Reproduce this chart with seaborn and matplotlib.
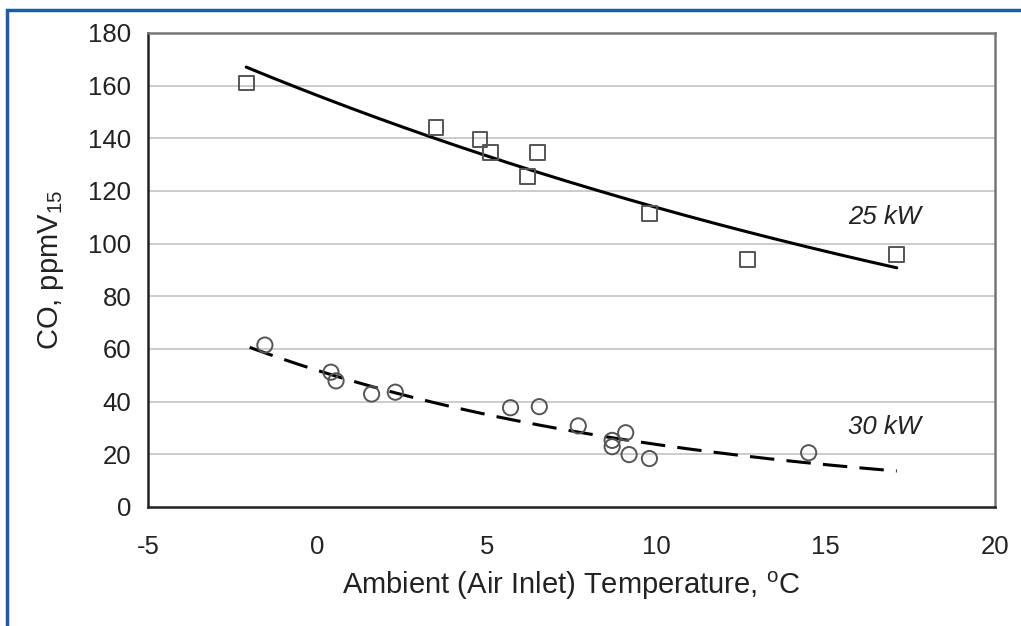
import numpy as np
import pandas as pd
import matplotlib
matplotlib.use("Agg")
import matplotlib.pyplot as plt
from matplotlib.patches import Rectangle
import seaborn as sns

# ---- data ----
t25 = [-2.1, 3.5, 4.8, 5.1, 6.2, 6.5, 9.8, 12.7, 17.1]
co25 = [161, 144, 139.5, 134.5, 125.5, 134.5, 111.5, 94, 96]

t30 = [-1.55, 0.4, 0.55, 1.6, 2.3, 5.7, 6.55, 7.7, 8.7, 8.7, 9.1, 9.2, 9.8, 14.5]
co30 = [61.5, 51.2, 47.9, 42.9, 43.6, 37.7, 38.1, 30.8, 25.3, 22.9, 28.2, 19.9, 18.4, 20.6]

# extent of the exponential trend lines
trend25_range = [-2.1, 17.1]
trend30_range = [-2.0, 17.1]

labels = ["25 kW", "30 kW"]
xticks = [-5, 0, 5, 10, 15, 20]
yticks = list(range(0, 181, 20))

# ---- style ----
sns.set_style("white")
plt.rcParams["font.family"] = ["Liberation Sans", "DejaVu Sans"]
plt.rcParams["mathtext.fontset"] = "custom"
plt.rcParams["mathtext.rm"] = "Liberation Sans"
plt.rcParams["mathtext.it"] = "Liberation Sans:italic"
plt.rcParams["axes.unicode_minus"] = False

fig = plt.figure(figsize=(10.21, 6.26), dpi=100)
ax = fig.add_axes([148 / 1021, 1 - 507 / 626, (995 - 148) / 1021, (507 - 33) / 626])

# blue frame around the figure
fig.patches.append(Rectangle((7 / 1021, -0.05), 1.2, 1 - 10 / 626 + 0.05,
                             transform=fig.transFigure, fill=False,
                             edgecolor="#1f5aa6", linewidth=2.5, clip_on=False))

# horizontal grid
for yv in yticks[1:-1]:
    ax.axhline(yv, color="#cccccc", lw=1.4, zorder=0)


def exp_trend(x, y, rng):
    b, a = np.polyfit(np.asarray(x, float), np.log(np.asarray(y, float)), 1)
    xs = np.linspace(rng[0], rng[1], 200)
    return pd.DataFrame({"x": xs, "y": np.exp(a + b * xs)})


tr25 = exp_trend(t25, co25, trend25_range)
tr30 = exp_trend(t30, co30, trend30_range)

df25 = pd.DataFrame({"t": t25, "co": co25})
df30 = pd.DataFrame({"t": t30, "co": co30})
sns.scatterplot(data=df25, x="t", y="co", ax=ax, marker="s", s=115,
                facecolor="none", edgecolor="#555555", linewidth=1.4, zorder=3)
sns.scatterplot(data=df30, x="t", y="co", ax=ax, marker="o", s=120,
                facecolor="none", edgecolor="#555555", linewidth=1.4, zorder=3)

sns.lineplot(data=tr25, x="x", y="y", ax=ax, color="black", lw=2.2, zorder=2)
sns.lineplot(data=tr30, x="x", y="y", ax=ax, color="black", lw=2.2, zorder=2)
ax.lines[-1].set_dashes([8, 4])

ax.text(16.75, 110, labels[0], style="italic", fontsize=18.5, ha="center", va="center", color="#222222")
ax.text(16.75, 30.5, labels[1], style="italic", fontsize=18.5, ha="center", va="center", color="#222222")

ax.set_xlim(-5, 20)
ax.set_ylim(0, 180)
ax.set_xticks(xticks)
ax.set_yticks(yticks)
ax.tick_params(axis="both", direction="out", length=8, width=1.5, colors="#222222",
               labelsize=18.5, labelcolor="#222222", pad=4)
ax.tick_params(axis="x", pad=12)

for side in ["left", "bottom"]:
    ax.spines[side].set_color("#222222")
    ax.spines[side].set_linewidth(1.8)
for side in ["top", "right"]:
    ax.spines[side].set_visible(True)
    ax.spines[side].set_color("#777777")
    ax.spines[side].set_linewidth(1.8)

ax.set_xlabel("Ambient (Air Inlet) Temperature, $^{\\mathrm{o}}$C", fontsize=21, color="#222222", labelpad=8)
ax.set_ylabel("CO, ppmV$_{\\mathrm{15}}$", fontsize=21, color="#222222", labelpad=16)

fig.savefig("out.png", dpi=100)
